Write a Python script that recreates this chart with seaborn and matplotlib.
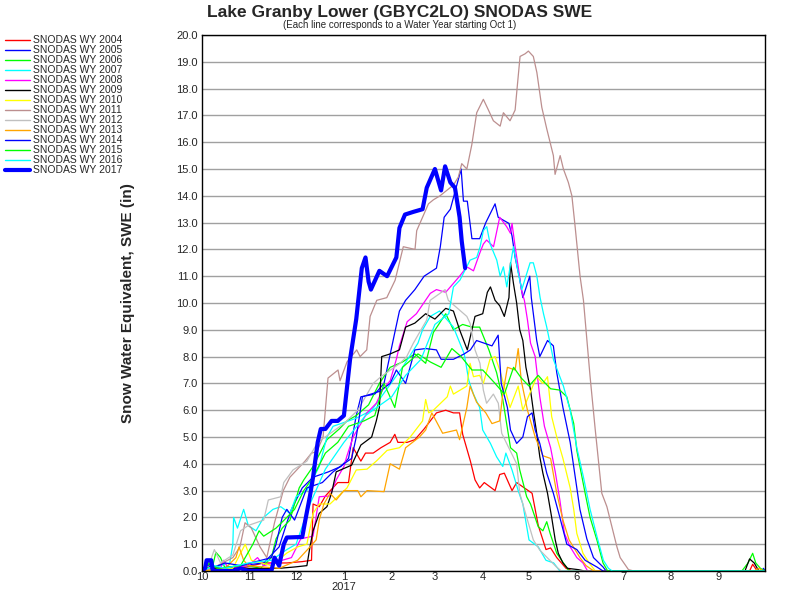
import pandas as pd
import matplotlib.pyplot as plt
from matplotlib.lines import Line2D
import seaborn as sns

# SWE (in) as (day of water year, value), day 0 = Oct 1
wy2004 = [(0,0),(6,0.2),(10,0.1),(25,0.1),(40,0.3),(55,0.3),(65,0.35),(71,0.4),(72,2.5),(76,2.4),(80,2.8),
          (88,3.3),(95,3.3),(98,4.6),(103,4.1),(106,4.4),(111,4.4),(116,4.6),(122,4.8),(125,5.1),(127,4.8),
          (133,4.8),(138,4.9),(144,5.3),(152,5.9),(158,6.0),(163,5.9),(167,5.9),(169,5.1),(174,4.1),(177,3.4),
          (180,3.1),(183,3.3),(190,3.0),(193,3.6),(196,3.65),(201,3.0),(204,3.3),(214,2.9),(218,1.7),(223,0.8),
          (226,0.86),(230,0.5),(236,0.1),(240,0),(355,0),(357,0.25),(360,0),(365,0)]
wy2005 = [(0,0),(5,0.3),(10,0.1),(25,0.2),(40,0.3),(50,0.9),(55,1.8),(58,2.3),(65,3.1),(72,3.5),(82,3.7),
          (90,3.9),(95,4.2),(100,5.8),(103,6.5),(112,6.6),(118,7.0),(125,8.9),(128,9.7),(132,10.1),(138,10.5),
          (144,11.0),(152,11.3),(154.5,12.1),(157,13.2),(161,13.5),(168,15.0),(169.5,13.8),(172,13.8),(175,12.4),
          (180,12.4),(184,13.0),(190,13.7),(192,13.2),(199,12.97),(201,12.5),(203,11.7),(206,10.9),(208,10.2),
          (212.5,11.0),(213.5,10.2),(217,8.6),(219,8.0),(224,8.6),(227.8,8.4),(230,7.4),(234,6.1),(238.7,4.8),
          (243,3.1),(245,2.3),(249.5,1.2),(253.8,0.5),(260,0.15),(262,0),(363,0),(364,0.1),(365,0)]
wy2006 = [(0,0),(7,0.2),(9,0.7),(12,0.5),(15,0.1),(30,0.2),(38,0.1),(45,0.5),(48,1.2),(52,1.6),(57,1.9),
          (63,3.1),(66,3.4),(72,3.9),(81,4.9),(89,5.3),(94,5.6),(100,5.8),(108,6.2),(115,7.0),(122,7.6),
          (130,7.8),(138,8.1),(145,7.75),(150,8.9),(158,9.6),(163,9.0),(169,9.2),(175,9.1),(180,9.1),(186,8.25),
          (191,7.4),(195,6.4),(200,4.6),(204,4.4),(206,3.77),(210.5,2.77),(213,2.5),(218,1.65),(221,1.5),
          (223.5,1.84),(225.7,1.4),(230,0.66),(234.3,0.3),(238,0),(350,0),(354,0.3),(357,0.66),(359,0.3),
          (362,0.1),(365,0)]
wy2007 = [(0,0),(5,0.1),(18,0.3),(20,1.0),(20.5,2.0),(23,1.6),(27,2.3),(30,1.7),(35,1.5),(40,2.0),(46,2.3),
          (51,2.4),(57,2.15),(61,2.77),(68,3.0),(76,3.9),(81,5.0),(85,5.4),(90,5.5),(100,5.7),(110,6.0),
          (120,6.8),(130,7.6),(140,8.5),(143,9.0),(148,9.5),(154,9.7),(163,9.1),(170,8.1),(173,7.1),(176,6.6),
          (180,6.1),(182,5.26),(187,4.76),(191,4.26),(195,3.9),(197,4.4),(201,3.77),(205,3.0),(208,2.5),
          (212,1.16),(218,0.9),(223,0.4),(228,0.3),(232,0),(365,0)]
wy2008 = [(0,0),(12,0.1),(14,0.4),(17,0.1),(30,0.2),(36,0.5),(40,0.2),(58,0.5),(64,1.2),(72,1.3),(76,2.77),
          (83,2.8),(87,3.4),(92,3.9),(94,4.3),(98,5.0),(107,5.9),(113,6.26),(117,6.75),(122,7.1),(126,7.9),
          (128,8.4),(133,9.3),(139,9.6),(148,10.36),(152,10.5),(158,10.4),(167,11.0),(171.7,11.35),(176,11.2),
          (180,11.85),(182.4,12.2),(184.5,12.35),(189,12.1),(193,13.2),(197.5,12.85),(200,12.6),(201,12.97),
          (203,12.1),(205,11.35),(207,10.5),(209,10.1),(211,9.37),(213,8.5),(216,8.0),(219,6.5),(222,5.4),
          (226,4.6),(229,3.7),(232,2.65),(235,1.4),(238.7,0.9),(243,0.5),(247,0.3),(250,0),(365,0)]
wy2009 = [(0,0),(4,0.3),(8,0.1),(30,0.1),(50,0.1),(60,0.15),(68,0.2),(70,0.9),(72,1.5),(76,2.15),(81,2.4),
          (84,2.9),(87,3.7),(97,3.95),(103,4.7),(110,5.0),(113,5.6),(115,6.1),(116.5,8.0),(122,8.1),(128,8.25),
          (132,9.1),(138,9.25),(145,9.6),(151,9.4),(158,9.8),(163,9.7),(167,9.0),(172,8.25),(177,9.5),(182,9.6),
          (185,10.4),(187,10.6),(190,10.1),(193,9.9),(196,9.5),(199,10.2),(200,11.5),(202,10.7),(204,10.0),
          (206,9.0),(208,8.6),(210,7.6),(213,6.75),(215,5.9),(217,5.14),(219,4.26),(221,3.65),(224,2.9),
          (226.7,2.0),(229,1.16),(231,0.66),(234,0.3),(237,0.1),(244,0.05),(248,0),(352,0),(355,0.45),
          (358,0.3),(361,0),(365,0)]
wy2010 = [(0,0),(20,0.1),(28,1.0),(32,0.4),(45,0.2),(55,0.67),(62,0.9),(68,1.0),(72,2.15),(76,2.5),(83,2.5),
          (94,3.1),(100,3.77),(107,3.8),(113,4.1),(120,4.5),(128,4.6),(135,5.0),(143,5.6),(145,6.4),(147,5.9),
          (150,6.0),(159,6.5),(161,6.9),(163,6.6),(171.7,6.9),(173.8,7.75),(176,7.25),(180,7.3),(182.4,7.0),
          (186.7,7.9),(190,8.0),(193,7.5),(199.7,6.1),(205,6.9),(208,6.0),(217,7.25),(221,7.0),(224,7.25),
          (226.7,5.76),(230,5.0),(234,4.2),(238.7,3.1),(241,2.3),(243,1.4),(247,0.66),(251,0.3),(255,0),(365,0)]
wy2011 = [(0,0),(10,0.2),(20,0.5),(24.6,0.9),(27.9,1.8),(32,1.6),(37.6,0.9),(42,0.5),(47,1.8),(52.7,3.0),
          (57,3.5),(66.8,4.1),(71,4.4),(74.4,4.45),(78.5,5.0),(81.7,7.2),(88.2,7.5),(89.5,7.1),(94,7.8),
          (100.3,8.25),(102.5,8.0),(106.8,8.25),(109,9.5),(113.3,10.1),(119.8,10.2),(125.2,10.85),(130.5,12.1),
          (138.1,12.0),(139.2,12.7),(146.8,13.7),(150,13.85),(154.3,14.0),(163,14.4),(166.2,14.7),(168.4,15.2),
          (171.7,15.0),(174.9,15.9),(178.1,17.1),(182.4,17.6),(185.7,17.2),(188.9,16.8),(193.3,16.6),
          (195.4,17.1),(199.7,16.8),(203,17.2),(204.1,17.9),(206.2,19.2),(209.5,19.3),(211.6,19.4),(214.8,19.2),
          (217.1,18.6),(220.3,17.3),(223.5,16.5),(227.8,15.5),(228.9,14.8),(232.2,15.5),(234.3,15.0),
          (237.5,14.5),(239.8,14.0),(241.9,12.85),(245.1,11.0),(247.3,10.1),(251.6,7.25),(254.9,5.3),
          (259.2,2.9),(262.5,2.4),(269,0.9),(271.1,0.5),(276.5,0.05),(280,0),(365,0)]
wy2012 = [(0,0),(5,0.3),(8,0.8),(12,0.3),(20,0.6),(25,1.5),(30,1.7),(40,1.9),(43,2.65),(51,2.77),(53,3.3),
          (59,3.77),(68,4.1),(72,4.5),(75,4.8),(92,5.5),(101,6.0),(111,7.0),(116,7.25),(128.4,7.75),(132.7,8.0),
          (137,8.5),(145.7,9.37),(147.9,10.1),(154.3,10.36),(157.6,10.5),(159.7,10.1),(171.7,9.5),(173.8,9.24),
          (177,8.25),(180.2,7.75),(182.4,6.75),(184.5,6.26),(188.9,6.6),(192.1,6.26),(194.3,5.14),(197.5,4.76),
          (204,4.0),(206,2.9),(210.5,2.0),(214.8,1.16),(219,0.78),(225.5,0.4),(229.8,0.15),(233,0),(365,0)]
wy2013 = [(0,0),(15,0.1),(22,0.5),(24,0.9),(27,0.4),(30,0.2),(50,0.1),(62,0.4),(70,0.9),(74,1.16),(76,1.9),
          (79,2.5),(83,2.9),(87,2.65),(92,3.0),(101,3.0),(103,2.77),(107,3.0),(118,2.96),(122,4.0),(128,3.8),
          (132,4.6),(141,5.0),(145,5.26),(149,5.9),(156,5.14),(165,5.26),(167,4.9),(171.7,6.1),(173.8,6.9),
          (178,6.3),(184,5.9),(188,5.5),(193,5.6),(195,6.6),(198,7.6),(203,7.5),(205,8.3),(207,7.1),(211,6.0),
          (216,5.0),(221,4.3),(226,4.2),(230,2.9),(234,1.9),(238,1.16),(245,0.5),(249,0.2),(254,0),(358,0),
          (361,0.1),(364,0),(365,0)]
wy2014 = [(0,0),(3,0.3),(6,0.1),(15,0.3),(25,0.2),(45,0.5),(48,1.0),(52,2.0),(55,2.3),(60,1.9),(68,3.1),
          (78,3.3),(85,3.7),(92,4.0),(97,4.2),(100,5.0),(104,6.5),(115,6.7),(122,7.0),(126,7.5),(132,7.0),
          (138,8.25),(145,8.3),(152,8.25),(155,7.9),(163,7.9),(170,8.1),(174,8.25),(178,8.6),(183,8.5),(188,8.4),
          (192,8.8),(194,7.0),(198,6.1),(200,5.26),(204,4.76),(208,5.0),(211,5.76),(214,5.9),(216,5.26),
          (219,4.76),(223.5,3.65),(227.8,2.9),(232,2.0),(236.5,1.0),(243,0.8),(248.4,0.4),(256,0.15),(260,0),
          (365,0)]
wy2015 = [(0,0),(5,0.3),(10,0.1),(25,0.2),(33,1.0),(37,1.5),(40,1.3),(48,1.6),(55,2.0),(60,2.3),(66,3.0),
          (72,3.5),(80,4.4),(88,4.8),(95,5.4),(105,5.6),(112,5.8),(118,7.0),(125,6.1),(130,7.6),(140,8.1),
          (148,7.8),(155,7.6),(162,8.3),(168,8.0),(175,7.5),(182,7.5),(190,7.0),(196,6.6),(202,7.6),(207,7.2),
          (212,6.9),(218,7.3),(221,7.1),(226,6.8),(232,6.75),(236.5,6.5),(241,5.5),(243,4.5),(245,3.9),
          (248.4,2.9),(251.6,2.0),(256,1.16),(260,0.3),(263,0),(365,0)]
wy2016 = [(0,0),(8,0.2),(15,0.1),(30,0.3),(45,0.4),(55,0.8),(61,1.0),(70,2.5),(80,3.8),(92,4.8),(106,5.8),
          (123,6.5),(132,7.3),(142,7.9),(151,9.2),(160,9.6),(163,10.6),(167.3,10.86),(173.8,11.6),(178.1,11.7),
          (180.3,12.1),(182.4,12.7),(184.6,12.85),(186.8,12.2),(191.1,11.6),(193.3,11.0),(195.4,11.35),
          (197.6,10.6),(201.9,12.1),(205.1,11.1),(207.3,10.5),(212.7,11.5),(214.8,11.5),(217.1,11.0),
          (219.2,10.2),(221.4,9.6),(223.5,9.1),(227.8,7.9),(231,7.4),(234.3,6.9),(238.7,6.0),(243,4.6),
          (247.3,3.5),(251.6,2.3),(256,1.3),(260.2,0.4),(263.5,0.1),(266,0),(365,0)]
wy2017 = [(0,0),(2,0.1),(3,0.4),(6,0.4),(7,0),(20,0),(25,0.1),(30,0),(45,0),(47,0.5),(50,0.2),(53,1.0),
          (55,1.25),(65,1.27),(67,1.9),(70,2.8),(72,3.5),(75,4.8),(77,5.3),(80,5.3),(84,5.6),(88,5.6),(92,5.8),
          (96,7.9),(100,9.4),(103.6,11.3),(106,11.7),(108,10.8),(109.5,10.5),(115,11.2),(120,11.0),(126,11.7),
          (128,12.8),(131.6,13.3),(137,13.4),(143,13.5),(145.7,14.3),(151,15.0),(155,14.2),(157.6,15.1),
          (161,14.5),(164,14.3),(167,13.2),(168.4,12.3),(170.6,11.3)]

series = [wy2004, wy2005, wy2006, wy2007, wy2008, wy2009, wy2010,
          wy2011, wy2012, wy2013, wy2014, wy2015, wy2016, wy2017]
labels = ['SNODAS WY %d' % y for y in range(2004, 2018)]
colors = ['#ff0000', '#0000ff', '#00ff00', '#00ffff', '#ff00ff', '#000000', '#ffff00',
          '#bc8f8f', '#c0c0c0', '#ffa500', '#0000ff', '#00ff00', '#00ffff', '#0000ff']

month_days = [0, 31, 61, 92, 123, 151, 182, 212, 243, 273, 304, 335]
month_labels = ['10', '11', '12', '1\n2017', '2', '3', '4', '5', '6', '7', '8', '9']

sns.set_style('white')
plt.rcParams['font.family'] = ['Liberation Sans', 'DejaVu Sans']

fig = plt.figure(figsize=(8, 6), dpi=100)
ax = fig.add_axes([202/800, 29/600, 563/800, 536/600])

for pts, color, name in zip(series, colors, labels):
    df = pd.DataFrame(pts, columns=['day', 'swe'])
    lw = 3.0 if name.endswith('2017') else 0.9
    sns.lineplot(data=df, x='day', y='swe', ax=ax, color=color, lw=lw,
                 estimator=None, sort=False, legend=False)

ax.set_xlim(0, 365)
ax.set_ylim(0, 20)
ax.set_yticks(range(0, 21))
ax.set_yticklabels(['%.1f' % v for v in range(0, 21)], fontsize=8)
ax.set_xticks(month_days)
ax.set_xticklabels(month_labels, fontsize=8, linespacing=1.0)
ax.tick_params(axis='x', direction='in', length=8, width=1, color='black', pad=1)
ax.tick_params(axis='y', length=0, pad=3)
ax.yaxis.grid(True, color='#a0a0a0', lw=1)
ax.xaxis.grid(False)
ax.set_axisbelow(True)
ax.set_xlabel('')
ax.set_ylabel('')
for sp in ax.spines.values():
    sp.set_color('black')
    sp.set_linewidth(1)

fig.text(0.5, 1 - 12/600, 'Lake Granby Lower (GBYC2LO) SNODAS SWE',
         ha='center', va='center', fontsize=12.5, fontweight='bold')
fig.text(0.5, 1 - 25/600, '(Each line corresponds to a Water Year starting Oct 1)',
         ha='center', va='center', fontsize=7)
fig.text(128/800, 1 - 303/600, 'Snow Water Equivalent, SWE (in)', rotation=90,
         ha='center', va='center', fontsize=11, fontweight='bold')

# legend at upper left, one row every 10 px
for i, (name, color) in enumerate(zip(labels, colors)):
    y = 1 - (40 + 10*i)/600
    lw = 3.0 if name.endswith('2017') else 1.0
    fig.add_artist(Line2D([5/800, 30/800], [y, y], color=color, lw=lw, transform=fig.transFigure))
    fig.text(33/800, y, name, ha='left', va='center', fontsize=7.5)

plt.savefig('out.png', dpi=100)
